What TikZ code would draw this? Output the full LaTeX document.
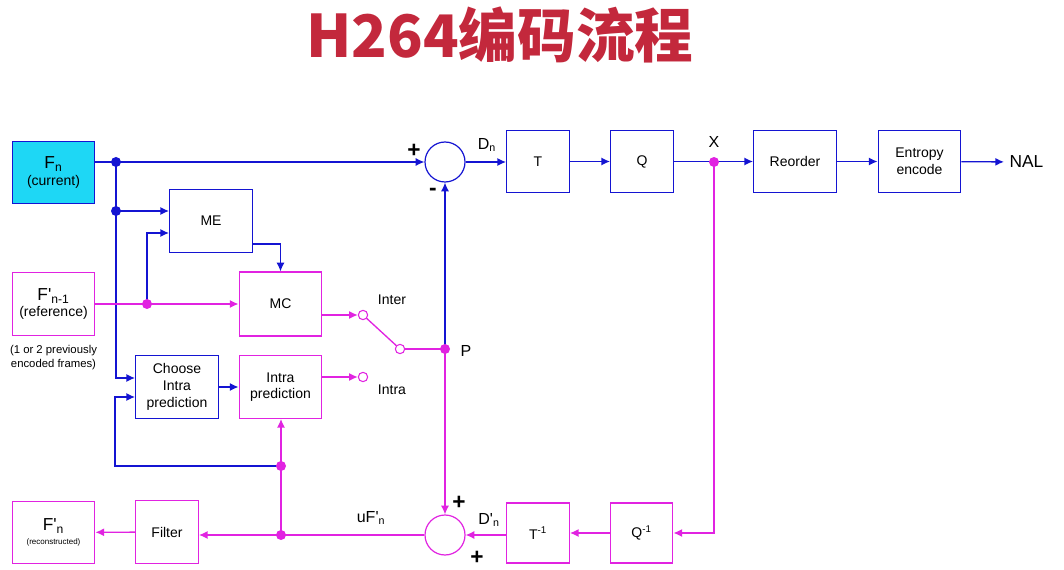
\documentclass[tikz,border=0pt]{standalone}
\usepackage{fontspec}
\setmainfont{Liberation Sans}
\newfontfamily\cjk{Noto Sans CJK SC}
\usepackage{xcolor}
\usetikzlibrary{calc, arrows.meta}

\definecolor{blu}{RGB}{20,20,210}
\definecolor{mag}{RGB}{225,35,225}
\definecolor{cyn}{RGB}{30,215,245}
\definecolor{titred}{RGB}{195,40,60}

\begin{document}
\begin{tikzpicture}[x=0.75pt, y=-0.75pt,
		lbl/.style={font=\fontsize{10.5}{12.5}\selectfont, align=center},
		wbox/.style={draw, line width=0.9pt, minimum width=62pt, minimum height=47pt, inner sep=1pt, lbl},
		nbox/.style={wbox, minimum width=47pt},
		sum/.style={draw, circle, line width=0.9pt, minimum size=30pt, inner sep=0pt},
		sw/.style={draw=mag, circle, fill=white, line width=0.8pt, minimum size=7pt, inner sep=0pt},
		bl/.style={blu, line width=1pt},
		mg/.style={mag, line width=1pt},
		arr/.style={-{Latex[length=6.5pt,width=6pt]}},
		sgn/.style={font=\bfseries\fontsize{17}{17}\selectfont, inner sep=0pt}]
			\useasboundingbox (0,0) rectangle (1064,570);
			
			\def\dotr{3.75pt};
			
			\node[titred, font=\cjk\bfseries\fontsize{44}{44}\selectfont] (title) at (500,35) {H264编码流程};
			
			%inputs and prediction
			\node[wbox, draw=blu, fill=cyn] (Fn) at (53.5,172.5) {{\fontsize{13}{14}\selectfont F\textsubscript{n}}\\(current)};
			\node[wbox, draw=blu] (ME) at (211,221) {ME};
			\node[wbox, draw=mag] (Fp) at (53.5,304) {{\fontsize{13}{14}\selectfont F\textquotesingle\textsubscript{n-1}}\\(reference)};
			\node[lbl, font=\fontsize{8.5}{10.5}\selectfont] (note) at (53.5,358) {(1 or 2 previously\\encoded frames)};
			\node[wbox, draw=mag, minimum height=48pt] (MC) at (280.5,304) {MC};
			\node[wbox, draw=blu] (choose) at (177,387) {Choose\\Intra\\prediction};
			\node[wbox, draw=mag] (intra) at (280.5,387) {Intra\\prediction};
			
			%switch
			\node[sw] (inter) at (363,315) {};
			\node[sw] (intrasw) at (363,377) {};
			\node[sw] (pole) at (400,349) {};
			\node[lbl] (lInter) at (392,300) {Inter};
			\node[lbl] (lIntra) at (392,390) {Intra};
			\node[font=\fontsize{12}{12}\selectfont] (lP) at (466,351) {P};
			
			%forward path
			\node[sum, draw=blu] (sumA) at (445,162) {};
			\node[sgn] (plusA) at (414,151) {+};
			\node[sgn] (minusA) at (433,192) {-};
			\node[font=\fontsize{12}{12}\selectfont] (lD) at (487,145) {D\textsubscript{n}};
			\node[nbox, draw=blu] (T) at (538,161.5) {T};
			\node[nbox, draw=blu] (Q) at (642,161.5) {Q};
			\node[font=\fontsize{12}{12}\selectfont] (lX) at (714,142) {X};
			\node[wbox, draw=blu] (reo) at (795,161.5) {Reorder};
			\node[wbox, draw=blu] (ent) at (919.5,161.5) {Entropy\\encode};
			\node[anchor=west, font=\fontsize{13}{13}\selectfont, inner sep=4pt] (NAL) at (1004,162) {NAL};
			
			%reconstruction path
			\node[nbox, draw=mag, minimum height=45pt] (Qi) at (641.5,533) {Q\textsuperscript{-1}};
			\node[nbox, draw=mag, minimum height=45pt] (Ti) at (538,533) {T\textsuperscript{-1}};
			\node[sum, draw=mag] (sumB) at (445,535) {};
			\node[sgn] (plusB1) at (459,503) {+};
			\node[sgn] (plusB2) at (477,558) {+};
			\node[font=\fontsize{12}{12}\selectfont] (lDp) at (489,520) {D\textquotesingle\textsubscript{n}};
			\node[font=\fontsize{12}{12}\selectfont] (luF) at (371,518) {uF\textquotesingle\textsubscript{n}};
			\node[nbox, draw=mag] (filt) at (167,532) {Filter};
			\node[wbox, draw=mag] (Fo) at (53.5,532.5) {{\fontsize{13}{14}\selectfont F\textquotesingle\textsubscript{n}}\\[-2pt]{\fontsize{6}{7}\selectfont (reconstructed)}};
			
			\coordinate (j1) at (116,162);
			\coordinate (j2) at (116,211);
			\coordinate (j3) at (147,304);
			\coordinate (P) at (445,349);
			\coordinate (X) at (714,162);
			\coordinate (j4) at (281,535);
			\coordinate (j5) at (281,466);
			
			\draw[bl, arr] (Fn.east |- sumA) -- (sumA.west);
			\draw[bl, arr] (j1) |- ($(choose.west)+(0,-9)$);
			\draw[bl, arr] (j2) -- (ME.west |- j2);
			\draw[bl, arr] (j3) |- ($(ME.west)+(0,12)$);
			\draw[bl, arr] ($(ME.east)+(0,23)$) -| (MC.north);
			\draw[mg, arr] (Fp.east) -- (MC.west);
			\draw[bl, arr] (choose.east) -- (intra.west);
			\draw[mg, arr] ($(MC.east)+(0,11)$) -- (inter);
			\draw[mg, arr] ($(intra.east)+(0,-10)$) -- (intrasw);
			\draw[mg] (inter) -- (pole);
			\draw[mg] (pole) -- (P);
			\draw[bl, arr] (P) -- (sumA.south);
			\draw[mg, arr] (P) -- (sumB.north);
			
			\draw[bl, arr] (sumA.east) -- (T.west |- sumA);
			\draw[bl, arr] (T) -- (Q);
			\draw[bl, arr] (Q) -- (reo);
			\draw[bl, arr] (reo) -- (ent);
			\draw[bl, arr] (ent) -- (NAL);
			
			\draw[mg, arr] (X) |- (Qi.east);
			\draw[mg, arr] (Qi) -- (Ti);
			\draw[mg, arr] (Ti.west |- sumB) -- (sumB.east);
			\draw[mg, arr] (sumB.west) -- (filt.east |- sumB);
			\draw[mg, arr] (filt) -- (Fo);
			\draw[mg, arr] (j4) -- (j4 |- intra.south);
			\draw[bl, arr] (j5) -| ($(choose.west)+(-20,10)$) -- ($(choose.west)+(0,10)$);
			
			\foreach \p in {j1,j2} \fill[blu] (\p) circle [radius=\dotr];
			\foreach \p in {j3,P,X,j4,j5} \fill[mag] (\p) circle [radius=\dotr];
		\end{tikzpicture}
\end{document}
